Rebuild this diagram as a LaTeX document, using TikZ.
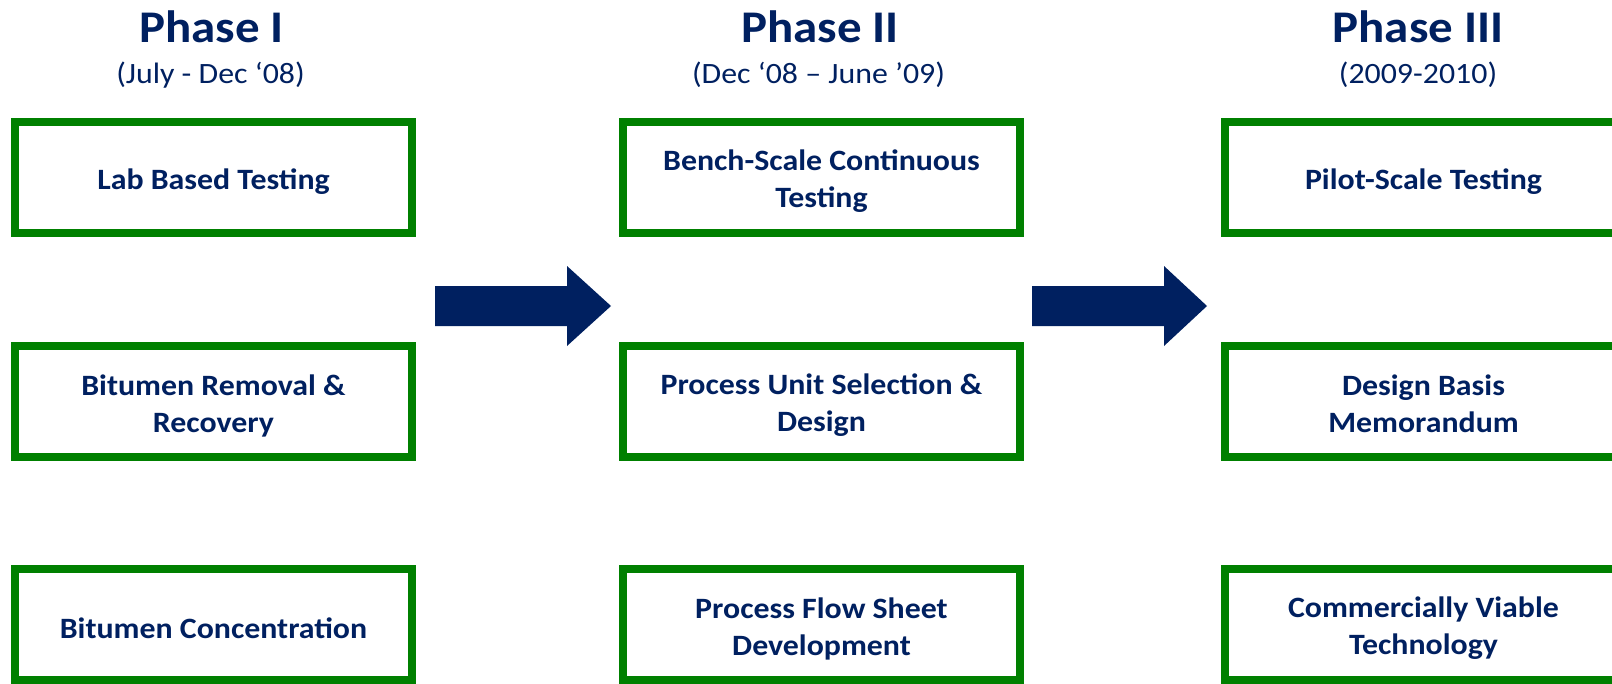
\documentclass[tikz,border=0pt]{standalone}
\usepackage{fontspec}
\setmainfont{Carlito}
\newfontfamily\widefont[FakeStretch=1.08]{Carlito}
\definecolor{navy}{HTML}{002060}
\definecolor{boxgreen}{HTML}{008000}
\begin{document}
\begin{tikzpicture}[x=1pt,y=-1pt,
  phasebox/.style={draw=boxgreen, line width=8pt, fill=white, minimum width=397pt, minimum height=111pt, inner sep=0pt},
  boxtext/.style={text=navy, font=\widefont\fontsize{29.5}{37}\selectfont\bfseries, align=center, yshift=-4pt},
  phasetitle/.style={text=navy, font=\widefont\fontsize{45.3}{50}\selectfont\bfseries, anchor=base},
  phasedate/.style={text=navy, font=\widefont\fontsize{29.5}{32}\selectfont, anchor=base},
  bigarrow/.style={fill=navy, draw=none}]
\useasboundingbox (0,0) rectangle (1612,683);
% boxes
\foreach \c/\x in {a/213.5, b/821.5, c/1423.5}{
  \node[phasebox] (\c1) at (\x,177.5) {};
  \node[phasebox] (\c2) at (\x,401.5) {};
  \node[phasebox] (\c3) at (\x,624.5) {};
}
% texts
\node[boxtext] (ta1) at (a1) {Lab Based Testing};
\node[boxtext] (ta2) at (a2) {Bitumen Removal \&\\Recovery};
\node[boxtext] (ta3) at (a3) {Bitumen Concentration};
\node[boxtext] (tb1) at (b1) {Bench-Scale Continuous\\Testing};
\node[boxtext] (tb2) at (b2) {Process Unit Selection \&\\Design};
\node[boxtext] (tb3) at (b3) {Process Flow Sheet\\Development};
\node[boxtext] (tc1) at (c1) {Pilot-Scale Testing};
\node[boxtext, yshift=2pt] (tc2) at (c2) {Design Basis\\Memorandum};
\node[boxtext] (tc3) at (c3) {Commercially Viable\\Technology};
% headers
\node[phasetitle] (h1) at (211.5,42) {Phase I};
\node[phasedate] (d1) at (210.5,83) {(July - Dec ‘08)};
\node[phasetitle] (h2) at (820,42) {Phase II};
\node[phasedate] (d2) at (818.5,83) {(Dec ‘08 – June ’09)};
\node[phasetitle] (h3) at (1418,42) {Phase III};
\node[phasedate] (d3) at (1418,83) {(2009-2010)};
% arrows
\fill[bigarrow] (435,286) -- (567,286) -- (567,266) -- (611,306) -- (567,346) -- (567,326) -- (435,326) -- cycle;
\fill[bigarrow] (1032,286) -- (1164,286) -- (1164,266) -- (1207,306) -- (1164,346) -- (1164,326) -- (1032,326) -- cycle;
\end{tikzpicture}
\end{document}
